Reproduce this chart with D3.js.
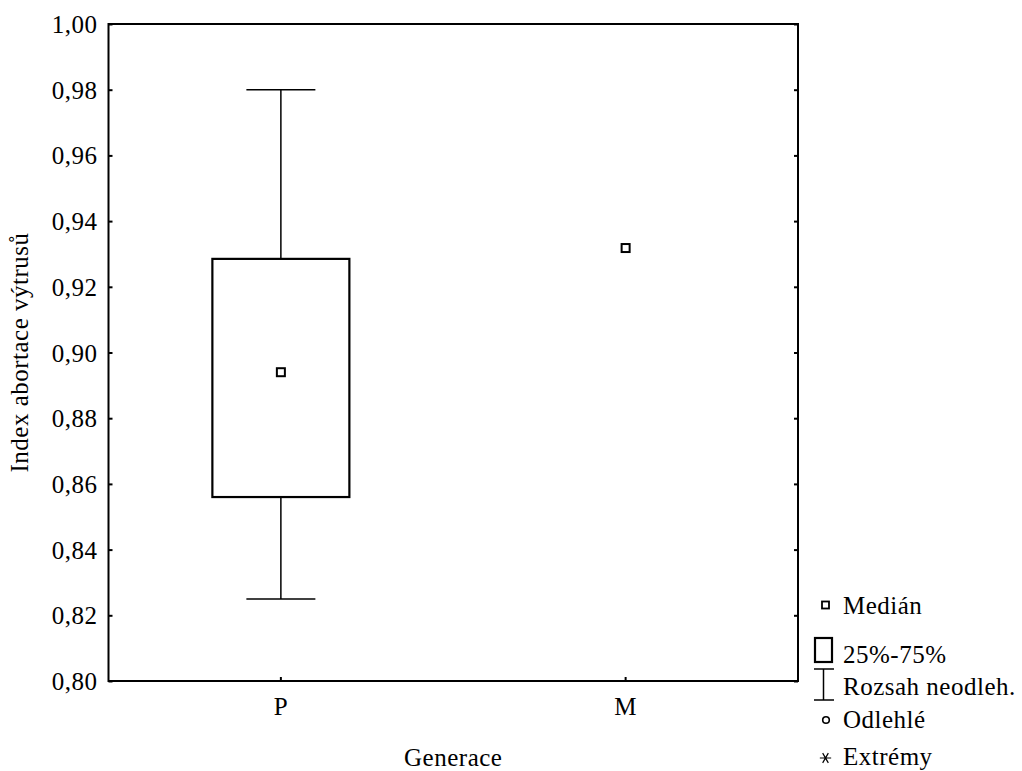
<!DOCTYPE html>
<html>
<head>
<meta charset="utf-8">
<script src="https://cdn.jsdelivr.net/npm/d3@7.9.0/dist/d3.min.js"></script>
<style>
  body { margin: 0; background: #fff; }
  svg text { font-family: "Liberation Serif", "Times New Roman", serif; fill: #000; letter-spacing: 0.5px; }
</style>
</head>
<body>
<div id="chart"></div>
<script>
// groups and their box statistics
const groups = ['P', 'M'];
const medians = [0.894, 0.9318];
const q1 = [0.856, null];
const q3 = [0.9285, null];
const whiskerLow = [0.825, null];
const whiskerHigh = [0.98, null];

const yTicks = [0.80, 0.82, 0.84, 0.86, 0.88, 0.90, 0.92, 0.94, 0.96, 0.98, 1.00];
const legendLabels = ['Medián', '25%-75%', 'Rozsah neodleh.', 'Odlehlé', 'Extrémy'];

const width = 1022;
const height = 771;
const plot = { left: 108.5, right: 798, top: 24, bottom: 681 };

const svg = d3.select('#chart')
  .append('svg')
  .attr('width', width)
  .attr('height', height);

const xScale = d3.scaleBand()
  .domain(groups)
  .range([plot.left, plot.right]);

const yScale = d3.scaleLinear()
  .domain([0.80, 1.00])
  .range([plot.bottom, plot.top]);

const fmt = (d) => d3.format('.2f')(d).replace('.', ',');

// axes (ticks inward)
const yAxis = svg.append('g')
  .attr('transform', `translate(${plot.left},0)`)
  .call(d3.axisLeft(yScale).tickValues(yTicks).tickFormat(fmt).tickSize(-4).tickPadding(11));

const yAxisRight = svg.append('g')
  .attr('transform', `translate(${plot.right},0)`)
  .call(d3.axisRight(yScale).tickValues(yTicks).tickFormat('').tickSize(-4));

const xAxis = svg.append('g')
  .attr('transform', `translate(0,${plot.bottom})`)
  .call(d3.axisBottom(xScale).tickSize(-4).tickPadding(16));

[yAxis, yAxisRight, xAxis].forEach((g) => {
  g.select('.domain').remove();
  g.selectAll('.tick line').attr('stroke', '#000').attr('stroke-width', 2);
  g.selectAll('.tick text').style('font-size', '25px');
});
yAxis.selectAll('.tick text').attr('dy', '0.34em');

// frame
svg.append('rect')
  .attr('x', plot.left)
  .attr('y', plot.top)
  .attr('width', plot.right - plot.left)
  .attr('height', plot.bottom - plot.top)
  .attr('fill', 'none')
  .attr('stroke', '#000')
  .attr('stroke-width', 2);

// axis titles
svg.append('text')
  .attr('x', (plot.left + plot.right) / 2)
  .attr('y', 766)
  .attr('text-anchor', 'middle')
  .style('font-size', '25px')
  .text('Generace');

svg.append('text')
  .attr('transform', `translate(28,${(plot.top + plot.bottom) / 2}) rotate(-90)`)
  .attr('text-anchor', 'middle')
  .style('font-size', '25px')
  .text('Index abortace výtrusů');

// boxes
const boxW = 137;
const capW = 69;
const boxes = svg.append('g');

groups.forEach((g, i) => {
  const cx = xScale(g) + xScale.bandwidth() / 2;
  if (whiskerHigh[i] != null) {
    boxes.append('line')
      .attr('x1', cx).attr('x2', cx)
      .attr('y1', yScale(whiskerHigh[i])).attr('y2', yScale(q3[i]))
      .attr('stroke', '#000').attr('stroke-width', 1.5);
    boxes.append('line')
      .attr('x1', cx).attr('x2', cx)
      .attr('y1', yScale(q1[i])).attr('y2', yScale(whiskerLow[i]))
      .attr('stroke', '#000').attr('stroke-width', 1.5);
    [whiskerHigh[i], whiskerLow[i]].forEach((v) => {
      boxes.append('line')
        .attr('x1', cx - capW / 2).attr('x2', cx + capW / 2)
        .attr('y1', yScale(v)).attr('y2', yScale(v))
        .attr('stroke', '#000').attr('stroke-width', 1.5);
    });
  }
  if (q1[i] != null) {
    boxes.append('rect')
      .attr('x', cx - boxW / 2)
      .attr('y', yScale(q3[i]))
      .attr('width', boxW)
      .attr('height', yScale(q1[i]) - yScale(q3[i]))
      .attr('fill', 'none')
      .attr('stroke', '#000')
      .attr('stroke-width', 2.2);
  }
  boxes.append('rect')
    .attr('x', cx - 4)
    .attr('y', yScale(medians[i]) - 4)
    .attr('width', 8)
    .attr('height', 8)
    .attr('fill', '#fff')
    .attr('stroke', '#000')
    .attr('stroke-width', 2);
});

// legend
const legend = svg.append('g');
const textX = 843;
const baselines = [614, 663, 695, 728, 765];

legend.append('rect')
  .attr('x', 822).attr('y', 601.5).attr('width', 7).attr('height', 7)
  .attr('fill', '#fff').attr('stroke', '#000').attr('stroke-width', 1.8);

legend.append('rect')
  .attr('x', 815).attr('y', 638).attr('width', 17).attr('height', 24)
  .attr('fill', 'none').attr('stroke', '#000').attr('stroke-width', 2.2);

legend.append('line')
  .attr('x1', 823.5).attr('x2', 823.5).attr('y1', 669).attr('y2', 700)
  .attr('stroke', '#000').attr('stroke-width', 1.5);
[669, 700].forEach((y) => {
  legend.append('line')
    .attr('x1', 814).attr('x2', 834).attr('y1', y).attr('y2', y)
    .attr('stroke', '#000').attr('stroke-width', 1.5);
});

legend.append('circle')
  .attr('cx', 826).attr('cy', 720).attr('r', 3.3)
  .attr('fill', '#fff').attr('stroke', '#000').attr('stroke-width', 1.6);

legend.append('path')
  .attr('transform', 'translate(825.5,758) rotate(90)')
  .attr('d', d3.symbol(d3.symbolAsterisk, 90)())
  .attr('fill', 'none')
  .attr('stroke', '#000')
  .attr('stroke-width', 1.2);

legend.selectAll('text.lbl')
  .data(legendLabels)
  .join('text')
  .attr('class', 'lbl')
  .attr('x', textX)
  .attr('y', (d, i) => baselines[i])
  .style('font-size', '25px')
  .text((d) => d);
</script>
</body>
</html>
